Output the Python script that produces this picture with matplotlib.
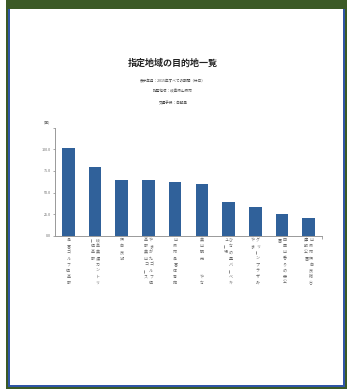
import matplotlib
matplotlib.use('Agg')
import matplotlib.pyplot as plt
from matplotlib.patches import Rectangle

plt.rcParams['font.family'] = ['Noto Sans CJK JP', 'DejaVu Sans']

# ---- data ----
categories = [
    '高富ゴルフ倶楽部',
    '岐阜美濃カントリー倶楽部',
    '伊自良湖',
    'やまがたゴルフ倶楽部美山コース',
    '山県市高富体育館',
    '美山観光　　やな',
    'ひなの里バーベキュー場',
    'グリーンプラザみやま',
    '四国山香りの森公園',
    '山県市伊自良総合運動公園',
]
values = [102, 79, 64, 64, 62, 60, 39, 33, 25, 21]
yticks = [0, 25, 50, 75, 100]
ytick_labels = ['0.0', '25.0', '50.0', '75.0', '100.0']
title = '指定地域の目的地一覧'
subtitles = ['表示年月：2015年すべての期間（休日）', '指定地域：岐阜県山県市', '交通手段：自動車']
unit_label = '(回)'

W, H = 347, 391
DPI = 100
fig = plt.figure(figsize=(W / DPI, H / DPI), dpi=DPI)
fig.patch.set_facecolor('white')


def px_rect(x0, y0, x1, y1, color, z):
    fig.add_artist(Rectangle((x0 / W, 1 - y1 / H), (x1 - x0) / W, (y1 - y0) / H,
                             transform=fig.transFigure, facecolor=color,
                             edgecolor='none', zorder=z))


# frame
px_rect(6, 0, 347, 389, '#3b5a26', -3)
px_rect(8, 9, 345, 387.3, '#2f55a6', -2)
px_rect(10, 9, 342.7, 385.3, 'white', -1)

# titles
fig.text(173 / W, 1 - 63 / H, title, ha='center', va='center', fontsize=6.5,
         fontweight='bold', color='#222222')
for s, yy in zip(subtitles, [80, 92, 103.5]):
    fig.text(173 / W, 1 - yy / H, s, ha='center', va='center', fontsize=2.6,
             color='#444444')

# axes
y0px, ytop = 236, 127.6
ax = fig.add_axes([55 / W, 1 - y0px / H, (322 - 55) / W, (y0px - ytop) / H])
ax.set_facecolor('none')
ax.set_xlim(-0.5, len(categories) - 0.5)
ax.set_ylim(0, 125)

ax.bar(range(len(categories)), values, width=0.475, color='#30619a', zorder=2)

for sp in ['top', 'right']:
    ax.spines[sp].set_visible(False)
for sp in ['left', 'bottom']:
    ax.spines[sp].set_color('#999999')
    ax.spines[sp].set_linewidth(0.7)

ax.set_yticks(yticks)
ax.set_yticklabels(ytick_labels)
ax.set_yticks([125], minor=True)
ax.set_xticks(range(len(categories)))
ax.set_xticklabels([''] * len(categories))
ax.set_xticks([len(categories) - 0.5], minor=True)
ax.tick_params(axis='y', which='major', length=1.8, width=0.6, color='#999999',
               labelsize=2.7, labelcolor='#666666', pad=1)
ax.tick_params(axis='y', which='minor', length=1.8, width=0.6, color='#999999')
ax.tick_params(axis='x', which='major', length=0)
ax.tick_params(axis='x', which='minor', length=1.8, width=0.6, color='#999999')

fig.text(47 / W, 1 - 122.5 / H, unit_label, ha='center', va='center',
         fontsize=2.7, color='#666666')

# vertical category labels (columns of 8, right to left)
per_col = 8
col_gap = 5.0
pitch = 6.1
for i, lab in enumerate(categories):
    cols = [lab[k:k + per_col] for k in range(0, len(lab), per_col)]
    n = len(cols)
    for j, col in enumerate(cols):
        dx = ((n - 1) / 2 - j) * col_gap
        for k, ch in enumerate(col):
            if ch.isspace():
                continue
            rot = 90 if ch in 'ー' else 0
            ax.annotate(ch, xy=(i, 0), xycoords=ax.get_xaxis_transform(),
                        xytext=(dx, -(4.2 + k * pitch)), textcoords='offset pixels',
                        ha='center', va='center', fontsize=2.9, color='#666666',
                        rotation=rot, rotation_mode='anchor', annotation_clip=False)

fig.savefig('out.png', dpi=DPI, facecolor='white')
